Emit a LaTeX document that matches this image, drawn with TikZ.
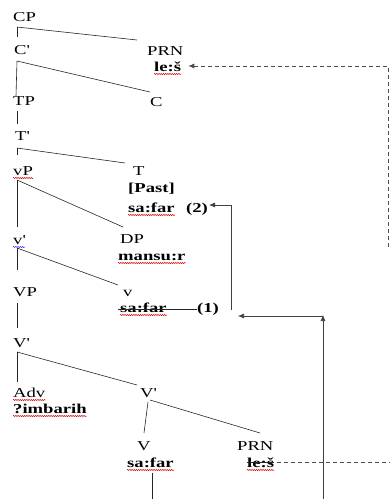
\documentclass[tikz,border=0pt]{standalone}
\usepackage{fontspec}
\setmainfont[FakeStretch=1.37]{Liberation Serif}
\usetikzlibrary{arrows.meta,decorations.pathmorphing}
\newcommand\pr{\textquotesingle}
\begin{document}
\begin{tikzpicture}[x=1pt,y=-1pt,
  lbl/.style={anchor=base west,inner sep=0pt,font=\fontsize{13.6}{16}\selectfont},
  blbl/.style={lbl,font=\fontsize{13.6}{16}\selectfont\bfseries},
  branch/.style={draw=black!85,line width=0.6pt},
  mover/.style={draw=black!75,line width=0.6pt},
  dashmove/.style={draw=black!70,line width=0.7pt,dash pattern=on 4pt off 3pt},
  tip/.style={-{Latex[length=6pt,width=5pt]}},
  spell/.style={draw=red!85!black,line width=0.5pt,decorate,decoration={snake,segment length=2.2pt,amplitude=0.6pt}},
  spellb/.style={spell,draw=blue!80}]
\useasboundingbox[fill=white] (0,0) rectangle (390,499);
% nodes
\node[lbl]  (CP)   at (13,21)  {CP};
\node[lbl]  (C1)   at (14,54)  {C\pr};
\node[lbl]  (PRN1) at (147,55) {PRN};
\node[blbl] (les1) at (154,71) {le:š};
\node[lbl]  (TP)   at (13,105) {TP};
\node[lbl]  (C)    at (150,106){C};
\node[lbl]  (T1)   at (15,140) {T\pr};
\node[lbl]  (vP)   at (13,175) {vP};
\node[lbl]  (T)    at (133,175){T};
\node[blbl] (Past) at (128,192){[Past]};
\node[blbl] (sa2)  at (128,212){sa:far};
\node[blbl] (n2)   at (186,212){(2)};
\node[lbl]  (v1)   at (13,244) {v\pr};
\node[lbl]  (DP)   at (120,243){DP};
\node[blbl] (mansur) at (118,260){mansu:r};
\node[lbl]  (VP)   at (13,296) {VP};
\node[lbl]  (v)    at (123,296){v};
\node[blbl] (sa1)  at (120,312){sa:far};
\node[blbl] (n1)   at (197,312){(1)};
\node[lbl]  (V1)   at (13,347) {V\pr};
\node[lbl]  (Adv)  at (13,397) {Adv};
\node[blbl] (imb)  at (13,413) {?imbarih};
\node[lbl]  (V2)   at (140,397){V\pr};
\node[lbl]  (V)    at (137,450){V};
\node[blbl] (sa0)  at (127,467){sa:far};
\node[lbl]  (PRN2) at (237,450){PRN};
\node[blbl] (les2) at (247,467){le:š};
% tree branches
\draw[branch] ([shift={(4,6)}]CP.base west) -- ([shift={(4,16)}]CP.base west);
\draw[branch] ([shift={(4,6)}]CP.base west) -- ([shift={(-10,-15)}]PRN1.base west);
\draw[branch] ([shift={(3,7)}]C1.base west) -- ([shift={(3,6)}]TP.base west |- 0,90);
\draw[branch] ([shift={(3,7)}]C1.base west) -- ([shift={(0,-14)}]C.base west);
\draw[branch] ([shift={(4,6)}]TP.base west) -- ([shift={(4,19)}]TP.base west);
\draw[branch] ([shift={(2,8)}]T1.base west) -- ([shift={(2,15)}]T1.base west);
\draw[branch] ([shift={(2,8)}]T1.base west) -- ([shift={(-8,-12)}]T.base west);
\draw[branch] ([shift={(4,5)}]vP.base west) -- ([shift={(4,-17)}]v1.base west);
\draw[branch] ([shift={(4,5)}]vP.base west) -- ([shift={(3,-16)}]DP.base west);
\draw[branch] ([shift={(4,4)}]v1.base west) -- ([shift={(4,-26)}]VP.base west);
\draw[branch] ([shift={(4,4)}]v1.base west) -- ([shift={(-5,-11)}]v.base west);
\draw[branch] ([shift={(4,7)}]VP.base west) -- ([shift={(4,-19)}]V1.base west);
\draw[branch] ([shift={(4,5)}]V1.base west) -- ([shift={(4,-15)}]Adv.base west);
\draw[branch] ([shift={(4,5)}]V1.base west) -- ([shift={(-3,-12)}]V2.base west);
\draw[branch] ([shift={(8,5)}]V2.base west) -- ([shift={(7,-17)}]V.base west);
\draw[branch] ([shift={(10,3)}]V2.base west) -- ([shift={(23,-17)}]PRN2.base west);
\draw[branch] ([shift={(25,6)}]sa0.base west) -- ([shift={(25,32)}]sa0.base west);
% strike-throughs
\draw[branch] ([shift={(-2,-3)}]sa1.base west) -- ([shift={(0,-3)}]n1.base west);
\draw[branch] ([shift={(0,-5)}]les2.base west) -- ([shift={(0,-5)}]les2.base east);
% spelling underlines
\foreach \n in {les1,vP,sa2,mansur,sa1,Adv,imb,sa0,les2}
  \draw[spell] ([yshift=-3]\n.base west) -- ([yshift=-3]\n.base east);
\draw[spellb] ([yshift=-3]v1.base west) -- ([yshift=-3]v1.base east);
% movement arrows
\coordinate (m2) at (231,310);
\coordinate (m1a) at (323,499);
\coordinate (m1b) at (323,316);
\coordinate (d1) at (388,247);
\coordinate (d2) at (390,462);
\draw[mover,tip] (m2) |- ([xshift=1]n2.east |- 0,205);
\draw[mover,tip] (m1a) -- ([yshift=1]m1b);
\draw[mover,tip] (m1b) -- (238,316);
\draw[dashmove,tip] (d1) |- ([xshift=7]les1.east |- 0,66);
\draw[dashmove] ([xshift=3]les2.east |- 0,462) -- (d2);
\end{tikzpicture}
\end{document}
